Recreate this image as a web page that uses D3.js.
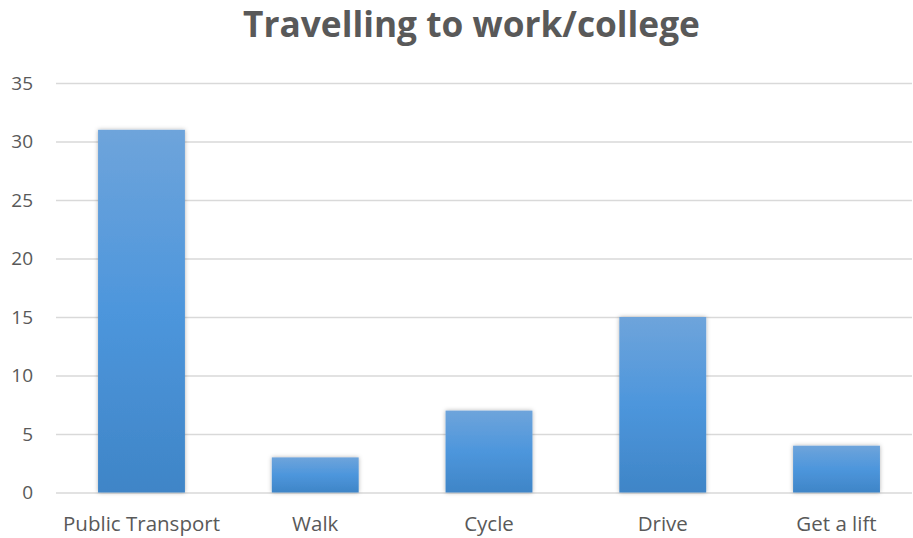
<!DOCTYPE html>
<html><head><meta charset="utf-8">
<script src="https://cdn.jsdelivr.net/npm/d3@7"></script>
<style>body{margin:0;background:#fff}svg{display:block}</style>
</head><body>
<svg id="c" width="913" height="538"></svg>
<script>
const categories = ["Public Transport","Walk","Cycle","Drive","Get a lift"];
const values = [31,3,7,15,4];
const yTicks = [0,5,10,15,20,25,30,35];
const title = "Travelling to work/college";

const svg = d3.select("#c");
const W = 913, H = 538;
const FONT = "'Open Sans', 'Noto Sans', sans-serif";
const left = 56, gridRight = 912;
const x = d3.scaleBand().domain(categories).range([left, 922]).paddingInner(0.5).paddingOuter(0.242);
const y = d3.scaleLinear().domain([0,35]).range([492.5, 83]);

const defs = svg.append("defs");
const g = defs.append("linearGradient").attr("id","bg").attr("x1",0).attr("y1",0).attr("x2",0).attr("y2",1);
g.append("stop").attr("offset","0%").attr("stop-color","#6ea4db");
g.append("stop").attr("offset","50%").attr("stop-color","#4d96dc");
g.append("stop").attr("offset","100%").attr("stop-color","#3f85c7");
const f = defs.append("filter").attr("id","sh").attr("x","-20%").attr("y","-20%").attr("width","140%").attr("height","140%");
f.append("feDropShadow").attr("dx",0).attr("dy",0).attr("stdDeviation",2).attr("flood-color","#000").attr("flood-opacity",0.3);

const t = svg.append("text").attr("x",471.5).attr("y",37).attr("text-anchor","middle")
  .attr("font-family",FONT).attr("font-weight","bold").attr("font-size",33)
  .attr("fill","#595959").text(title);
const tl = t.node().getComputedTextLength();
t.attr("font-size", 33*457/tl);

const ga = svg.append("g").attr("transform",`translate(${left},0)`)
  .call(d3.axisLeft(y).tickValues(yTicks).tickSize(-(gridRight-left)).tickPadding(23));
ga.select(".domain").remove();
ga.selectAll(".tick line").attr("stroke","#d9d9d9").attr("stroke-width",1.3);
ga.selectAll(".tick text").attr("fill","#595959").attr("font-size",19).attr("font-family",FONT);

svg.append("g").selectAll("rect").data(values).join("rect")
  .attr("x",(d,i)=>x(categories[i])).attr("width",x.bandwidth())
  .attr("y",d=>y(d)).attr("height",d=>y(0)-y(d))
  .attr("fill","url(#bg)").attr("filter","url(#sh)");

const gx = svg.append("g").attr("transform",`translate(0,${y(0)})`)
  .call(d3.axisBottom(x).tickSize(0).tickPadding(0));
gx.select(".domain").remove();
gx.selectAll(".tick text").attr("fill","#595959").attr("font-size",20.5).attr("font-family",FONT)
  .attr("dy",null).attr("y",38);
</script>
</body></html>
